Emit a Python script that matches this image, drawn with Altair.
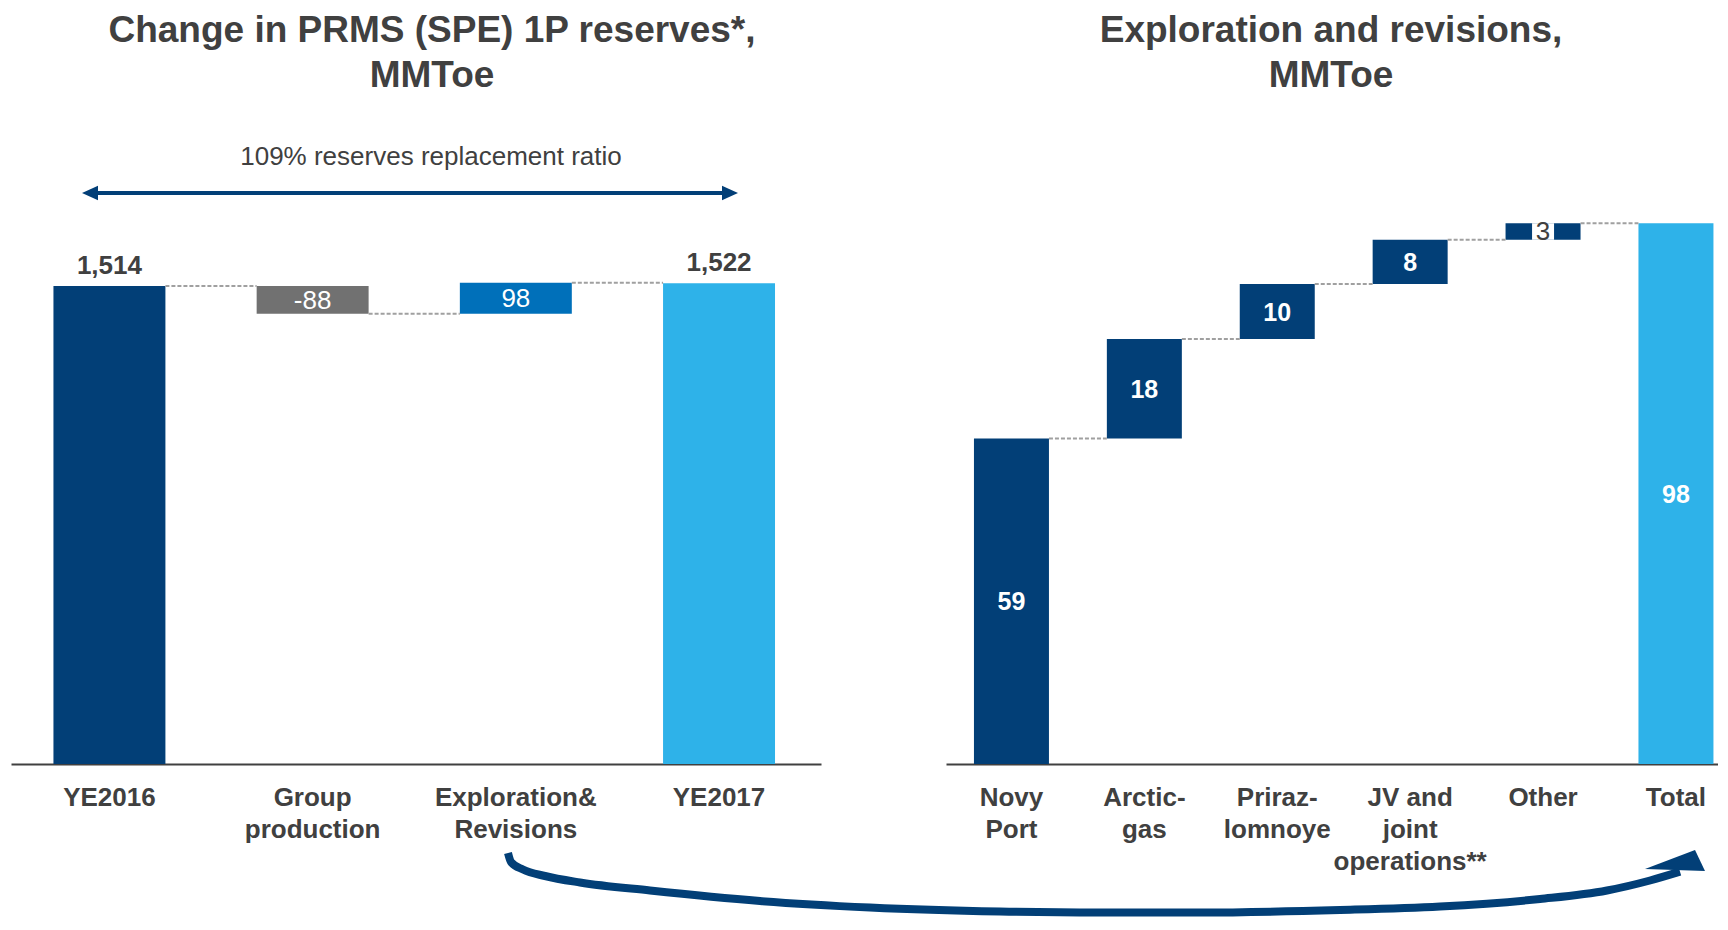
import altair as alt
import pandas as pd

# ---------------- data ----------------
left_categories = ["YE2016", "Group\nproduction", "Exploration&\nRevisions", "YE2017"]
left_values = [1514, -88, 98, 1522]
left_labels = ["1,514", "-88", "98", "1,522"]
left_is_total = [True, False, False, True]

right_categories = ["Novy\nPort", "Arctic-\ngas", "Priraz-\nlomnoye",
                    "JV and\njoint\noperations**", "Other", "Total"]
right_values = [59, 18, 10, 8, 3, 98]
right_labels = ["59", "18", "10", "8", "3", "98"]
right_is_total = [False, False, False, False, False, True]

left_title = "Change in PRMS (SPE) 1P reserves*,\nMMToe"
right_title = "Exploration and revisions,\nMMToe"
ratio_text = "109% reserves replacement ratio"

# ---------------- style ----------------
FONT = "Liberation Sans"
DARK = "#404040"
NAVY = "#023f77"
LIGHT = "#2eb2e9"
MID = "#0070ba"
GREY = "#717171"
DASH = "#a0a0a0"

OX_L, OY = 11, 8          # page position of left plot origin
OX_R = 946                # page position of right plot origin
H = 756


def waterfall(cats, vals, labels, totals):
    rows, run = [], 0
    for c, v, lab, t in zip(cats, vals, labels, totals):
        if t:
            s, e = 0, v
        else:
            s, e = run, run + v
        run = e
        rows.append(dict(cat=c, start=s, end=e, mid=(s + e) / 2, top=max(s, e),
                         label=lab, kind="total" if t else "delta"))
    df = pd.DataFrame(rows)
    conn = pd.DataFrame(dict(frm=cats[:-1], to=cats[1:], level=list(df["end"][:-1])))
    return df, conn


ldf, lconn = waterfall(left_categories, left_values, left_labels, left_is_total)
rdf, rconn = waterfall(right_categories, right_values, right_labels, right_is_total)

axis_common = dict(title=None, labelAngle=0, labelFont=FONT, labelFontSize=26,
                   labelFontWeight="bold", labelColor=DARK, labelLineHeight=32,
                   labelPadding=20, ticks=False, domainColor=DARK, domainWidth=2,
                   labelExpr="split(datum.label, '\\n')", labelLimit=300,
                   labelOverlap=False)

# ---------------- left chart ----------------
xl = alt.Scale(domain=left_categories, paddingInner=0.449, paddingOuter=0.2176, align=0.48)
yl = alt.Scale(domain=[0, 2394], nice=False, zero=True)

l_bars = alt.Chart(ldf).mark_bar().encode(
    x=alt.X("cat:N", scale=xl, axis=alt.Axis(**axis_common)),
    y=alt.Y("start:Q", scale=yl, axis=None),
    y2="end",
    color=alt.Color("cat:N", scale=alt.Scale(domain=left_categories,
                                             range=[NAVY, GREY, MID, LIGHT]), legend=None),
)
l_conn = alt.Chart(lconn).mark_rule(color=DASH, strokeWidth=2, strokeDash=[4, 2]).encode(
    x=alt.X("frm:N", scale=xl, bandPosition=1),
    x2=alt.X2("to", bandPosition=0),
    y=alt.Y("level:Q", scale=yl),
)
l_tot = alt.Chart(ldf).transform_filter("datum.kind == 'total'").mark_text(
    font=FONT, fontSize=26, fontWeight="bold", color=DARK, baseline="alphabetic", dy=-12
).encode(x=alt.X("cat:N", scale=xl), y=alt.Y("top:Q", scale=yl), text="label:N")
l_delta = alt.Chart(ldf).transform_filter("datum.kind == 'delta'").mark_text(
    font=FONT, fontSize=26, color="white", baseline="middle", dy=1
).encode(x=alt.X("cat:N", scale=xl), y=alt.Y("mid:Q", scale=yl), text="label:N")

l_title = alt.Chart(pd.DataFrame({"t": [left_title]})).mark_text(
    font=FONT, fontSize=37, fontWeight="bold", color=DARK, lineBreak="\n",
    lineHeight=45, align="center", baseline="alphabetic"
).encode(x=alt.value(421), y=alt.value(34), text="t:N")

ratio = alt.Chart(pd.DataFrame({"t": [ratio_text]})).mark_text(
    font=FONT, fontSize=26, color=DARK, align="center", baseline="alphabetic"
).encode(x=alt.value(420), y=alt.value(157), text="t:N")

one = pd.DataFrame({"a": [0]})
arrow_line = alt.Chart(one).mark_rule(color=NAVY, strokeWidth=4).encode(
    x=alt.value(79), x2=alt.value(719), y=alt.value(185))
head_l = alt.Chart(one).mark_point(shape="M 1 -0.9 L -1 0 L 1 0.9 Z", filled=True,
                                   size=256, color=NAVY, opacity=1, strokeWidth=0).encode(
    x=alt.value(79), y=alt.value(185))
head_r = alt.Chart(one).mark_point(shape="M -1 -0.9 L 1 0 L -1 0.9 Z", filled=True,
                                   size=256, color=NAVY, opacity=1, strokeWidth=0).encode(
    x=alt.value(719), y=alt.value(185))

# curved connector arrow (decoration, page coordinates)
curve_px = [508, 511, 523, 545, 580, 650, 760, 870, 1000, 1100, 1200, 1340, 1440, 1540, 1607, 1650, 1680]
curve_py = [853, 862, 869.5, 876, 882.5, 890.5, 901, 907.5, 911.5, 912.5, 912.5, 910,
            906.5, 899, 890.5, 880.5, 871.7]
curve_df = pd.DataFrame({"px": [p - OX_L for p in curve_px],
                         "py": [p - OY for p in curve_py],
                         "o": list(range(len(curve_px)))})
curve = alt.Chart(curve_df).mark_line(color=NAVY, strokeWidth=8, interpolate="monotone",
                                      strokeCap="butt").encode(
    x=alt.X("px:Q", scale=None, axis=None),
    y=alt.Y("py:Q", scale=None, axis=None),
    order="o:Q")
curve_head = alt.Chart(one).mark_point(shape="M -1 0.233 L 0.667 -0.4 L 1 0.3 Z", filled=True,
                                       size=3600, color=NAVY, opacity=1, strokeWidth=0).encode(
    x=alt.value(1675 - OX_L), y=alt.value(862 - OY))

left = alt.layer(l_bars, l_conn, l_tot, l_delta, l_title, ratio, arrow_line, head_l, head_r,
                 curve, curve_head).properties(width=821 - OX_L, height=H)

# ---------------- right chart ----------------
xr = alt.Scale(domain=right_categories, paddingInner=0.4357, paddingOuter=0.1223, align=0.86)
yr = alt.Scale(domain=[0, 137], nice=False, zero=True)

r_bars = alt.Chart(rdf).mark_bar().encode(
    x=alt.X("cat:N", scale=xr, axis=alt.Axis(**axis_common)),
    y=alt.Y("start:Q", scale=yr, axis=None),
    y2="end",
    color=alt.Color("cat:N", scale=alt.Scale(domain=right_categories,
                                             range=[NAVY] * 5 + [LIGHT]), legend=None),
)
r_conn = alt.Chart(rconn).mark_rule(color=DASH, strokeWidth=2, strokeDash=[4, 2]).encode(
    x=alt.X("frm:N", scale=xr, bandPosition=1),
    x2=alt.X2("to", bandPosition=0),
    y=alt.Y("level:Q", scale=yr),
)
r_gap = alt.Chart(rdf).transform_filter("datum.cat == 'Other'").mark_bar(
    size=22, color="white").encode(
    x=alt.X("cat:N", scale=xr), y=alt.Y("start:Q", scale=yr), y2="end")
r_lab = alt.Chart(rdf).transform_filter("datum.cat != 'Other'").mark_text(
    font=FONT, fontSize=25, fontWeight="bold", color="white", baseline="middle", dy=1
).encode(x=alt.X("cat:N", scale=xr), y=alt.Y("mid:Q", scale=yr), text="label:N")
r_other = alt.Chart(rdf).transform_filter("datum.cat == 'Other'").mark_text(
    font=FONT, fontSize=26, color=DARK, baseline="middle", dy=1
).encode(x=alt.X("cat:N", scale=xr), y=alt.Y("mid:Q", scale=yr), text="label:N")
r_title = alt.Chart(pd.DataFrame({"t": [right_title]})).mark_text(
    font=FONT, fontSize=37, fontWeight="bold", color=DARK, lineBreak="\n",
    lineHeight=45, align="center", baseline="alphabetic"
).encode(x=alt.value(1331 - OX_R), y=alt.value(34), text="t:N")

right = alt.layer(r_bars, r_conn, r_gap, r_lab, r_other, r_title).properties(
    width=1718 - OX_R, height=H)

chart = alt.hconcat(left, right, spacing=OX_R - 821, bounds="flush").resolve_scale(
    color="independent"
).properties(
    padding={"left": 3, "top": 0, "right": 0, "bottom": 0}
).configure_view(stroke=None)

chart.save("out.html", embed_options={"renderer": "svg", "actions": False})
